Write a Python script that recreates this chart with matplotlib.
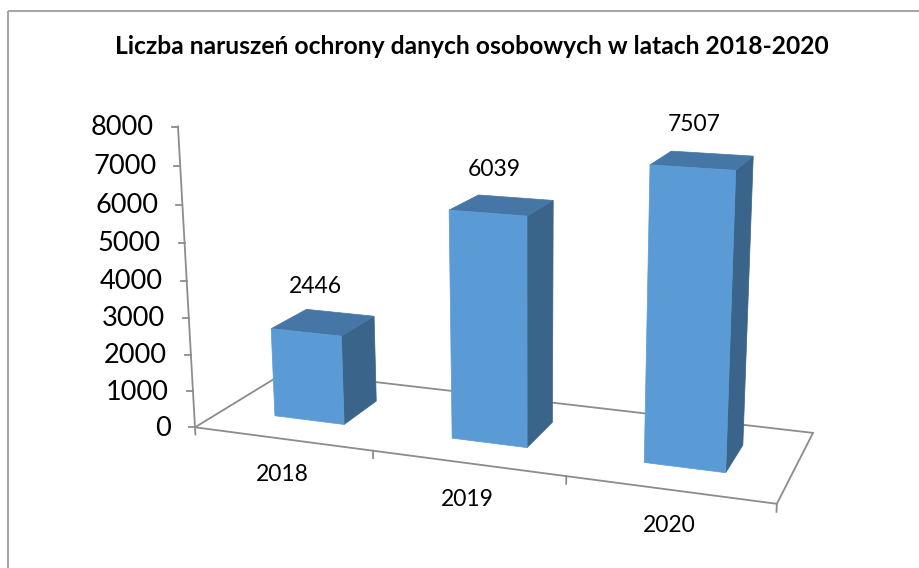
import numpy as np
import matplotlib.pyplot as plt
from matplotlib.patches import Polygon, Rectangle

# dane
years = ["2018", "2019", "2020"]
counts = [2446, 6039, 7507]
y_ticks = [0, 1000, 2000, 3000, 4000, 5000, 6000, 7000, 8000]
title = "Liczba naruszeń ochrony danych osobowych w latach 2018-2020"

YMAX = 8000
W, H = 920, 568

# widok 3D: narożniki podłogi i oś wartości (świat -> piksele)
view_world = [(0, 0, 0), (0, 1, 0), (3, 0, 0), (3, 1, 0), (1, 0, 0), (2, 0, 0)]
view_pix = [(195, 427), (286, 371.6), (777, 503), (813, 433), (373, 451), (566, 477)]
axis_px = [427.3, 391, 355, 318.3, 280.7, 242.7, 204.3, 165.7, 126.7]
for t, py in zip(y_ticks, axis_px):
    view_world.append((0, 0, t))
    view_pix.append((178 + 17 * (py - 127) / 300, py))


def fit_camera(world, pix):
    # DLT z normalizacją
    s = 460.0
    rows = []
    for (X, Y, Z), (u, v) in zip(world, pix):
        Z = Z / YMAX
        u = (u - W / 2) / s
        v = (v - H / 2) / s
        rows.append([X, Y, Z, 1, 0, 0, 0, 0, -u * X, -u * Y, -u * Z, -u])
        rows.append([0, 0, 0, 0, X, Y, Z, 1, -v * X, -v * Y, -v * Z, -v])
    _, _, vt = np.linalg.svd(np.array(rows))
    P = vt[-1].reshape(3, 4)
    T = np.array([[s, 0, W / 2], [0, s, H / 2], [0, 0, 1]])
    return T @ P


P = fit_camera(view_world, view_pix)


def proj(x, y, z):
    p = P @ np.array([x, y, z / YMAX, 1.0])
    return p[0] / p[2], p[1] / p[2]


fig = plt.figure(figsize=(W / 100, H / 100), dpi=100)
ax = fig.add_axes([0, 0, 1, 1])
ax.set_xlim(0, W)
ax.set_ylim(H, 0)
ax.axis("off")

font = ["Lato", "DejaVu Sans"]
grid_c = "#8C8C8C"

# ramka wykresu
ax.add_patch(Rectangle((8.5, 10.5), W, H, fill=False, ec="#A6A6A6", lw=1.5))

ax.text(W / 2 + 12, 47, title, ha="center", va="center", fontsize=17.7,
        fontweight="bold", family=font)

# podłoga
n = len(years)
floor = [proj(0, 0, 0), proj(n, 0, 0), proj(n, 1, 0), proj(0, 1, 0)]
ax.add_patch(Polygon(floor, closed=True, fill=False, ec=grid_c, lw=1.3))

# podziałka kategorii
for i in range(n + 1):
    a = proj(i, 0, 0)
    b = proj(i, 0, -200)
    ax.plot([a[0], b[0]], [a[1], b[1]], color=grid_c, lw=1.3)

# oś wartości
a = proj(0, 0, 0)
b = proj(0, 0, YMAX)
ax.plot([a[0], b[0]], [a[1], b[1]], color=grid_c, lw=1.3)
for t in y_ticks:
    u, v = proj(0, 0, t)
    ax.plot([u - 6, u], [v, v], color=grid_c, lw=1.3)
    ax.text(u - 24, v + 1, str(t), ha="right", va="center", fontsize=19.5,
            family=font)

# słupki
front_c, top_c, side_c = "#5B9BD5", "#4676A6", "#3A6489"
g, d0, d1 = 0.3, 0.3, 0.7
for i, val in enumerate(counts):
    x0, x1 = i + g, i + 1 - g
    side = [proj(x1, d0, 0), proj(x1, d1, 0), proj(x1, d1, val), proj(x1, d0, val)]
    top = [proj(x0, d0, val), proj(x1, d0, val), proj(x1, d1, val), proj(x0, d1, val)]
    front = [proj(x0, d0, 0), proj(x1, d0, 0), proj(x1, d0, val), proj(x0, d0, val)]
    for pts, c in ((side, side_c), (top, top_c), (front, front_c)):
        ax.add_patch(Polygon(pts, closed=True, fc=c, ec=c, lw=0.5))
    u, v = proj(i + 0.5, 0.5, val)
    ax.text(u - 8, v - 36, str(val), ha="center", va="center", fontsize=16.5,
            family=font)
    u, v = proj(i + 0.5, 0, 0)
    ax.text(u, v + 36, years[i], ha="center", va="center", fontsize=16.5,
            family=font)

fig.savefig("out.png", dpi=100)
